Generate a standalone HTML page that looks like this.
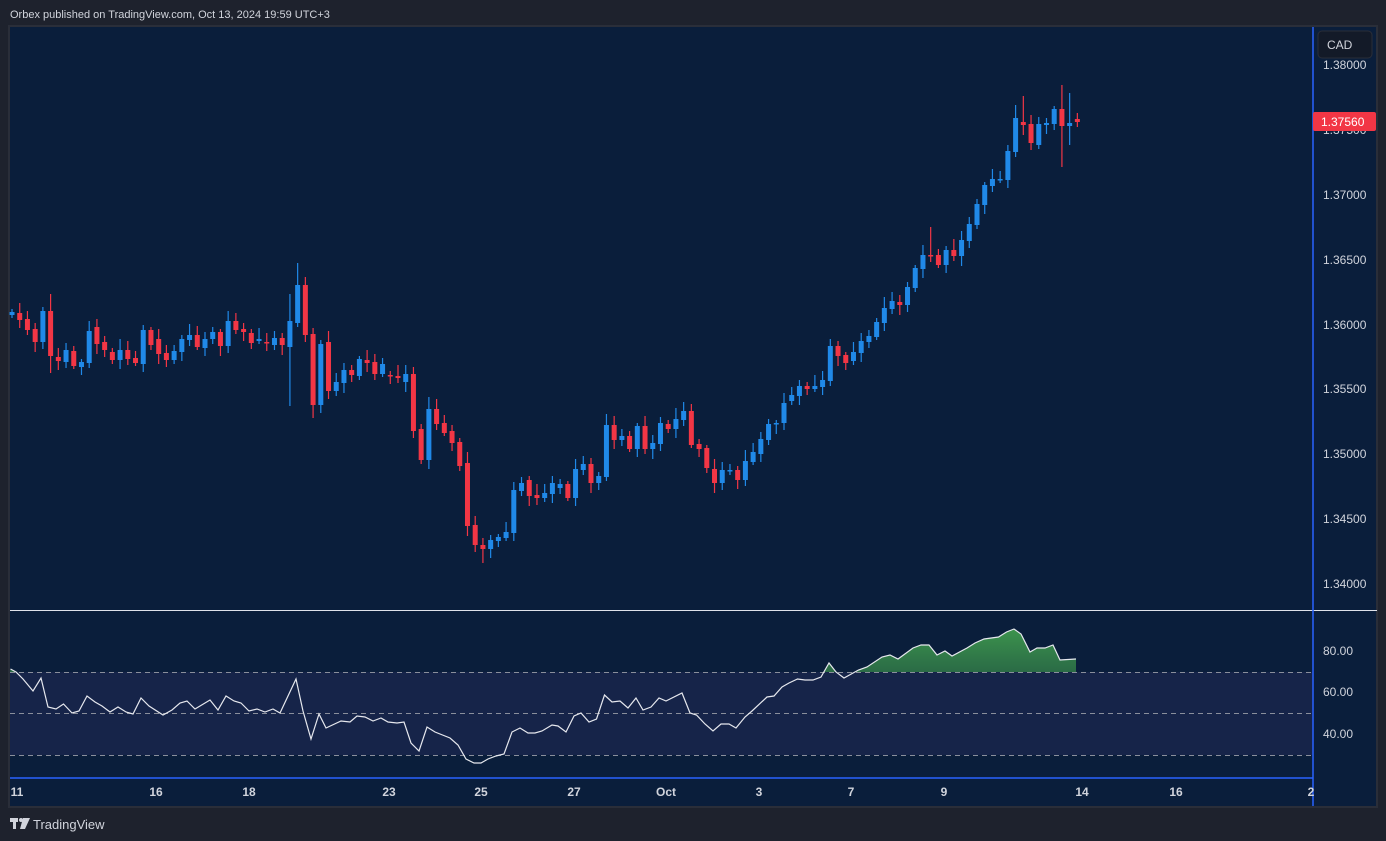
<!DOCTYPE html>
<html><head><meta charset="utf-8">
<style>
html,body{margin:0;padding:0;background:#1e222d;width:1386px;height:841px;overflow:hidden;font-family:"Liberation Sans",sans-serif;}
svg{position:absolute;left:0;top:0;}
</style></head>
<body>
<svg id="s" width="1386" height="841" xmlns="http://www.w3.org/2000/svg">
<defs>
<linearGradient id="g" x1="0" y1="0" x2="0" y2="1">
<stop offset="0" stop-color="#3f9a4e" stop-opacity="0.95"/>
<stop offset="1" stop-color="#2f7a45" stop-opacity="0.1"/>
</linearGradient>
<clipPath id="above"><rect x="10" y="612" width="1303" height="60"/></clipPath>
</defs>
<rect x="0" y="0" width="1386" height="841" fill="#1e222d"/>
<text x="10" y="18" font-size="11" fill="#d1d4dc">Orbex published on TradingView.com, Oct 13, 2024 19:59 UTC+3</text>
<rect x="9" y="26" width="1368" height="781" fill="#0a1e3b" stroke="#2a2e39" stroke-width="2"/>
<rect x="10" y="672" width="1303" height="83" fill="#162449"/>
<g stroke="#8a8f9c" stroke-width="1" stroke-dasharray="5,4">
<line x1="10" y1="672.5" x2="1313" y2="672.5"/>
<line x1="10" y1="713.5" x2="1313" y2="713.5"/>
<line x1="10" y1="755.5" x2="1313" y2="755.5"/>
</g>
<line x1="10" y1="610.5" x2="1377" y2="610.5" stroke="#e0e3eb" stroke-width="1"/>
<line x1="10" y1="778" x2="1313" y2="778" stroke="#2962ff" stroke-width="1.5"/>
<line x1="1313" y1="27" x2="1313" y2="806" stroke="#2962ff" stroke-width="1.5"/>
<g id="candles"></g>
<path id="rf" fill="url(#g)" clip-path="url(#above)"/>
<polyline id="rl" fill="none" stroke="#e6e8ee" stroke-width="1.2"/>
<rect x="1318" y="31" width="54" height="27" rx="4" fill="#131a28" stroke="#2a2e39"/>
<text x="1327" y="49" font-size="12" fill="#d1d4dc">CAD</text>
<g font-size="12" fill="#d1d4dc">
<text x="1323" y="69">1.38000</text>
<text x="1323" y="134">1.37500</text>
<text x="1323" y="199">1.37000</text>
<text x="1323" y="264">1.36500</text>
<text x="1323" y="329">1.36000</text>
<text x="1323" y="393">1.35500</text>
<text x="1323" y="458">1.35000</text>
<text x="1323" y="523">1.34500</text>
<text x="1323" y="588">1.34000</text>
<text x="1323" y="655">80.00</text>
<text x="1323" y="696">60.00</text>
<text x="1323" y="738">40.00</text>
</g>
<rect x="1313" y="112" width="63" height="19" rx="2" fill="#f23645"/>
<text x="1321" y="126" font-size="12" fill="#ffffff">1.37560</text>
<g font-size="12" font-weight="bold" fill="#d1d4dc" text-anchor="middle">
<text x="17" y="796">11</text>
<text x="156" y="796">16</text>
<text x="249" y="796">18</text>
<text x="389" y="796">23</text>
<text x="481" y="796">25</text>
<text x="574" y="796">27</text>
<text x="666" y="796">Oct</text>
<text x="759" y="796">3</text>
<text x="851" y="796">7</text>
<text x="944" y="796">9</text>
<text x="1082" y="796">14</text>
<text x="1176" y="796">16</text>
<text x="1311" y="796">2</text>
</g>
<g fill="#d1d4dc">
<rect x="10" y="818" width="8" height="4"/><rect x="13" y="818" width="3" height="11"/>
<circle cx="21" cy="820" r="2"/>
<path d="M23 818 L30 818 L25 829 L20 829 Z"/>
<text x="33" y="829" font-size="13">TradingView</text>
</g>
</svg>
<script>
var C=[
["b",312,315],["r",313,320],["r",319,330],["r",329,342],["b",311,342],["r",311,356],["r",357,361],["b",350,362],["r",351,366],["b",362,367],
["b",331,363],["r",327,344],["r",342,350],["r",352,360],["b",350,360],["r",350,359],["r",358,363],["b",330,364],["r",330,345],["r",339,354],
["r",353,360],["b",351,360],["b",339,352],["b",335,340],["r",335,347],["b",339,348],["b",332,339],["r",332,346],["b",321,346],["r",321,330],
["r",329,332],["r",333,343],["b",339,341],["r",342,343],["b",338,345],["r",338,345],["b",321,347],["b",285,323],["r",285,335],["r",334,405],
["b",344,405],["r",342,391],["b",382,391],["b",370,383],["r",370,375],["b",359,376],["r",360,363],["r",362,374],["b",364,374],["r",375,376],
["r",376,378],["b",374,382],["r",374,431],["r",429,460],["b",409,460],["r",409,424],["r",423,433],["r",431,443],["r",442,466],["r",463,526],
["r",525,545],["r",545,549],["b",540,549],["b",537,541],["b",532,538],["b",490,533],["b",483,491],["r",480,496],["r",495,498],["b",493,498],
["b",483,494],["b",484,488],["r",484,498],["b",469,498],["b",464,470],["r",464,483],["b",476,483],["b",425,477],["r",425,440],["b",436,440],
["r",436,449],["b",426,449],["r",426,449],["b",443,449],["b",423,444],["r",424,429],["b",419,429],["b",411,420],["r",411,445],["r",444,449],
["r",448,468],["r",469,483],["b",470,483],["b",470,471],["r",470,480],["b",461,480],["b",452,462],["b",439,454],["b",424,440],["b",423,424],
["b",403,423],["b",395,401],["b",386,396],["r",386,389],["b",386,389],["b",380,387],["b",346,381],["r",346,356],["r",355,363],["b",352,361],
["b",341,353],["b",336,342],["b",322,337],["b",308,323],["b",301,309],["r",302,305],["b",287,305],["b",268,288],["b",255,269],["r",255,256],
["r",255,265],["b",250,265],["r",250,256],["b",240,256],["b",224,241],["b",204,225],["b",185,205],["b",179,186],["b",179,180],["b",151,180],
["b",118,152],["r",122,125],["r",124,143],["b",124,145],["b",123,125],["b",109,124],["r",109,126],["b",123,126],["r",119,122]];
var W={37:[263,null],36:[294,406],40:[null,413],39:[null,418],54:[397,null],61:[null,563],119:[227,null],130:[105,null],131:[96,null],132:[115,150],136:[85,167],137:[93,145],38:[null,342],5:[294,373]};
var s="";
for(var i=0;i<C.length;i++){var c=C[i],x=12+i*7.72,col=c[0]=="b"?"#2089e8":"#f23645";
var hi=c[1]-(3+(i*7)%9),lo=c[2]+(3+(i*5)%8);
if(W[i]){if(W[i][0]!=null)hi=W[i][0];if(W[i][1]!=null)lo=W[i][1];}
var h=Math.max(c[2]-c[1],1.5);
s+='<line x1="'+x+'" y1="'+hi+'" x2="'+x+'" y2="'+lo+'" stroke="'+col+'" stroke-width="1.2"/>';
s+='<rect x="'+(x-2.5)+'" y="'+c[1]+'" width="5" height="'+h+'" fill="'+col+'"/>';}
document.getElementById("candles").innerHTML=s;
var R=[[10.5,669],[16,672],[23,679],[33,691],[41,678],[48,707],[56,709],[63.5,704],[72,713],[79,711],[87,696],[95,702],[102,706],[110,712],[118,707],[126,712],[133,714],[141,698],[149,706],[163,715],[172,710],[180,703],[187,701],[195,709],[210,700],[218,710],[226,696],[234,701],[241,703],[249,711],[257,709],[265,712],[273,709],[280,713],[296,679],[303,711],[311,739],[319,714],[326,728],[341,721],[350,722],[357,716],[365,717],[373,721],[381,718],[388,722],[397,723],[404,722],[411,743],[419,751],[427,727],[435,732],[450,738],[458,745],[466,759],[474,763],[481,763],[488,759],[496,756],[504,754],[512,732],[520,728],[528,733],[535,733],[542,731],[552,725],[558,726],[566,732],[574,716],[581,713],[589,722],[596.5,719],[604.5,695],[612,702],[620,701],[628,708],[636,698],[643,710],[651,707],[659,698],[666,701],[682,693],[690,713],[696.5,715],[705,724],[713,731],[721,724],[729,724],[736,728],[745,717],[752,711],[767,697],[774,696],[782,687],[789,683],[797.5,679],[805,680],[813,680],[821,677],[829,663],[836,672],[844,678],[858.5,670],[867,667],[882,657],[890,655],[898,659],[913,648],[921,645],[929,645],[937,655],[945,651],[952,656],[967,648],[975,643],[984,639],[998.5,637],[1006.5,632],[1014,629],[1021,634],[1030,652],[1037,648],[1045,648],[1053,645],[1060,660],[1076,659]];
var p=R.map(function(a){return a[0]+","+a[1]}).join(" ");
document.getElementById("rl").setAttribute("points",p);
document.getElementById("rf").setAttribute("d","M10,672 L"+R.map(function(a){return a[0]+" "+a[1]}).join(" L")+" L1076,672 Z");
</script>
</body></html>
